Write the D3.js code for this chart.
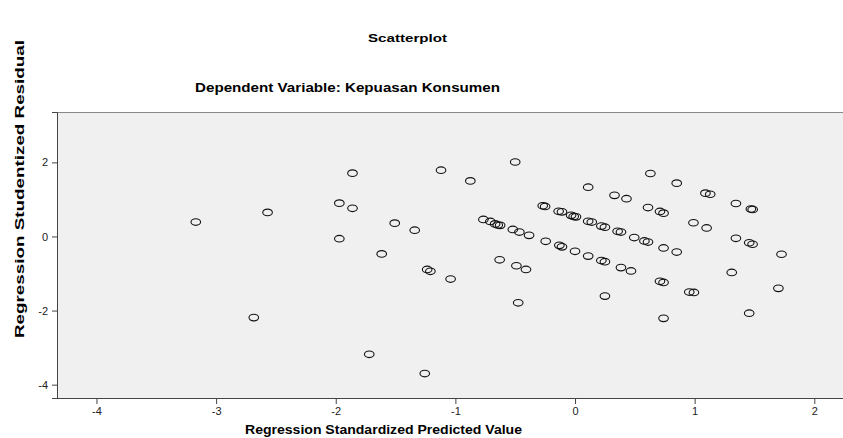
<!DOCTYPE html>
<html>
<head>
<meta charset="utf-8">
<script src="https://cdn.jsdelivr.net/npm/d3@7"></script>
<style>
  body { margin: 0; background: #fff; }
  text { font-family: "Liberation Sans", Arial, sans-serif; }
</style>
</head>
<body>
<div id="chart"></div>
<script>
// 資料：預測值 (x) 與學生化殘差 (y)
const predicted = [
  -3.17, -2.57, -1.86, -1.97, -1.86, -1.97, -2.685, -1.72, -1.256,
  -1.12, -0.875, -0.50, -1.507, -1.34, -1.616, -1.236, -1.209, -1.04,
  -0.766, -0.708, -0.668, -0.646, -0.626, -0.63, -0.52, -0.49, -0.475,
  0.11, 0.33, 0.43, -0.27, -0.25, -0.137, -0.109, -0.033, -0.011, 0.008,
  0.11, 0.14, 0.22, 0.25, 0.356, 0.384, -0.465, -0.384, -0.245,
  -0.131, -0.109, 0.0, 0.11, 0.22, 0.25, 0.384, 0.468, -0.41,
  0.63, 0.85, 0.61, 0.71, 0.74, 1.09, 1.13, 0.99, 1.10, 1.345, 1.47, 1.485,
  0.495, 0.58, 0.61, 0.74, 0.85, 1.345, 1.456, 1.484, 1.726,
  0.71, 0.74, 1.31, 1.70, 0.25, 0.955, 0.994, 0.74, 1.456
];
const residual = [
  0.39, 0.65, 1.71, 0.90, 0.76, -0.06, -2.19, -3.18, -3.70,
  1.79, 1.50, 2.01, 0.36, 0.17, -0.47, -0.89, -0.94, -1.15,
  0.46, 0.405, 0.34, 0.31, 0.30, -0.63, 0.19, -0.79, -1.79,
  1.33, 1.11, 1.02, 0.83, 0.81, 0.68, 0.665, 0.57, 0.54, 0.53,
  0.41, 0.39, 0.28, 0.25, 0.14, 0.12, 0.12, 0.03, -0.13,
  -0.24, -0.28, -0.40, -0.53, -0.65, -0.68, -0.84, -0.93, -0.89,
  1.70, 1.44, 0.78, 0.675, 0.63, 1.17, 1.14, 0.37, 0.23, 0.89, 0.74, 0.73,
  -0.03, -0.12, -0.15, -0.31, -0.42, -0.05, -0.17, -0.21, -0.48,
  -1.21, -1.24, -0.97, -1.40, -1.61, -1.50, -1.51, -2.21, -2.07
];
const xTicks = [-4, -3, -2, -1, 0, 1, 2];
const yTicks = [-4, -2, 0, 2];

const width = 843, height = 438;
const plot = { left: 57, top: 112, right: 843, bottom: 398 };

const svg = d3.select("#chart").append("svg")
  .attr("width", width).attr("height", height);

// 比例尺
const x = d3.scaleLinear().domain([-4.33, 2.24]).range([plot.left, plot.right]);
const y = d3.scaleLinear().domain([-4.36, 3.36]).range([plot.bottom, plot.top]);

// 繪圖區背景
svg.append("rect")
  .attr("x", plot.left).attr("y", plot.top)
  .attr("width", plot.right - plot.left + 5).attr("height", plot.bottom - plot.top)
  .attr("fill", "#f0f0f0");

svg.append("line")
  .attr("x1", plot.left).attr("x2", width).attr("y1", plot.top + 0.5).attr("y2", plot.top + 0.5)
  .attr("stroke", "#888");

// 座標軸（用一般連字號作負號）
const fmt = (d) => String(d);
const xAxis = svg.append("g")
  .attr("transform", `translate(0,${plot.bottom})`)
  .call(d3.axisBottom(x).tickValues(xTicks).tickSize(6).tickPadding(3).tickFormat(fmt));
const yAxis = svg.append("g")
  .attr("transform", `translate(${plot.left},0)`)
  .call(d3.axisLeft(y).tickValues(yTicks).tickSize(5).tickPadding(4).tickFormat(fmt));

[xAxis, yAxis].forEach((g) => {
  g.select(".domain").attr("stroke", "#444");
  g.selectAll(".tick line").attr("stroke", "#444");
  g.selectAll(".tick text")
    .attr("font-family", "Liberation Sans, Arial, sans-serif")
    .attr("font-size", 11).attr("fill", "#222");
});
xAxis.select(".domain").attr("d", `M${plot.left},0.5H${width}`);

// 散點
svg.append("g")
  .selectAll("ellipse")
  .data(predicted.map((d, i) => [d, residual[i]]))
  .join("ellipse")
  .attr("cx", (d) => x(d[0]))
  .attr("cy", (d) => y(d[1]))
  .attr("rx", 4.8)
  .attr("ry", 3.3)
  .attr("fill", "none")
  .attr("stroke", "#111")
  .attr("stroke-width", 1.1);

// 標題與軸標籤
svg.append("text")
  .attr("x", 368).attr("y", 42)
  .attr("font-size", 11).attr("font-weight", "bold")
  .attr("textLength", 79).attr("lengthAdjust", "spacingAndGlyphs")
  .text("Scatterplot");

svg.append("text")
  .attr("x", 195).attr("y", 92)
  .attr("font-size", 12).attr("font-weight", "bold")
  .attr("textLength", 305).attr("lengthAdjust", "spacingAndGlyphs")
  .text("Dependent Variable: Kepuasan Konsumen");

svg.append("text")
  .attr("x", 245).attr("y", 434)
  .attr("font-size", 12).attr("font-weight", "bold")
  .attr("textLength", 277).attr("lengthAdjust", "spacingAndGlyphs")
  .text("Regression Standardized Predicted Value");

svg.append("text")
  .attr("transform", "translate(24,338) rotate(-90)")
  .attr("font-size", 13).attr("font-weight", "bold")
  .attr("textLength", 298).attr("lengthAdjust", "spacingAndGlyphs")
  .text("Regression Studentized Residual");
</script>
</body>
</html>
